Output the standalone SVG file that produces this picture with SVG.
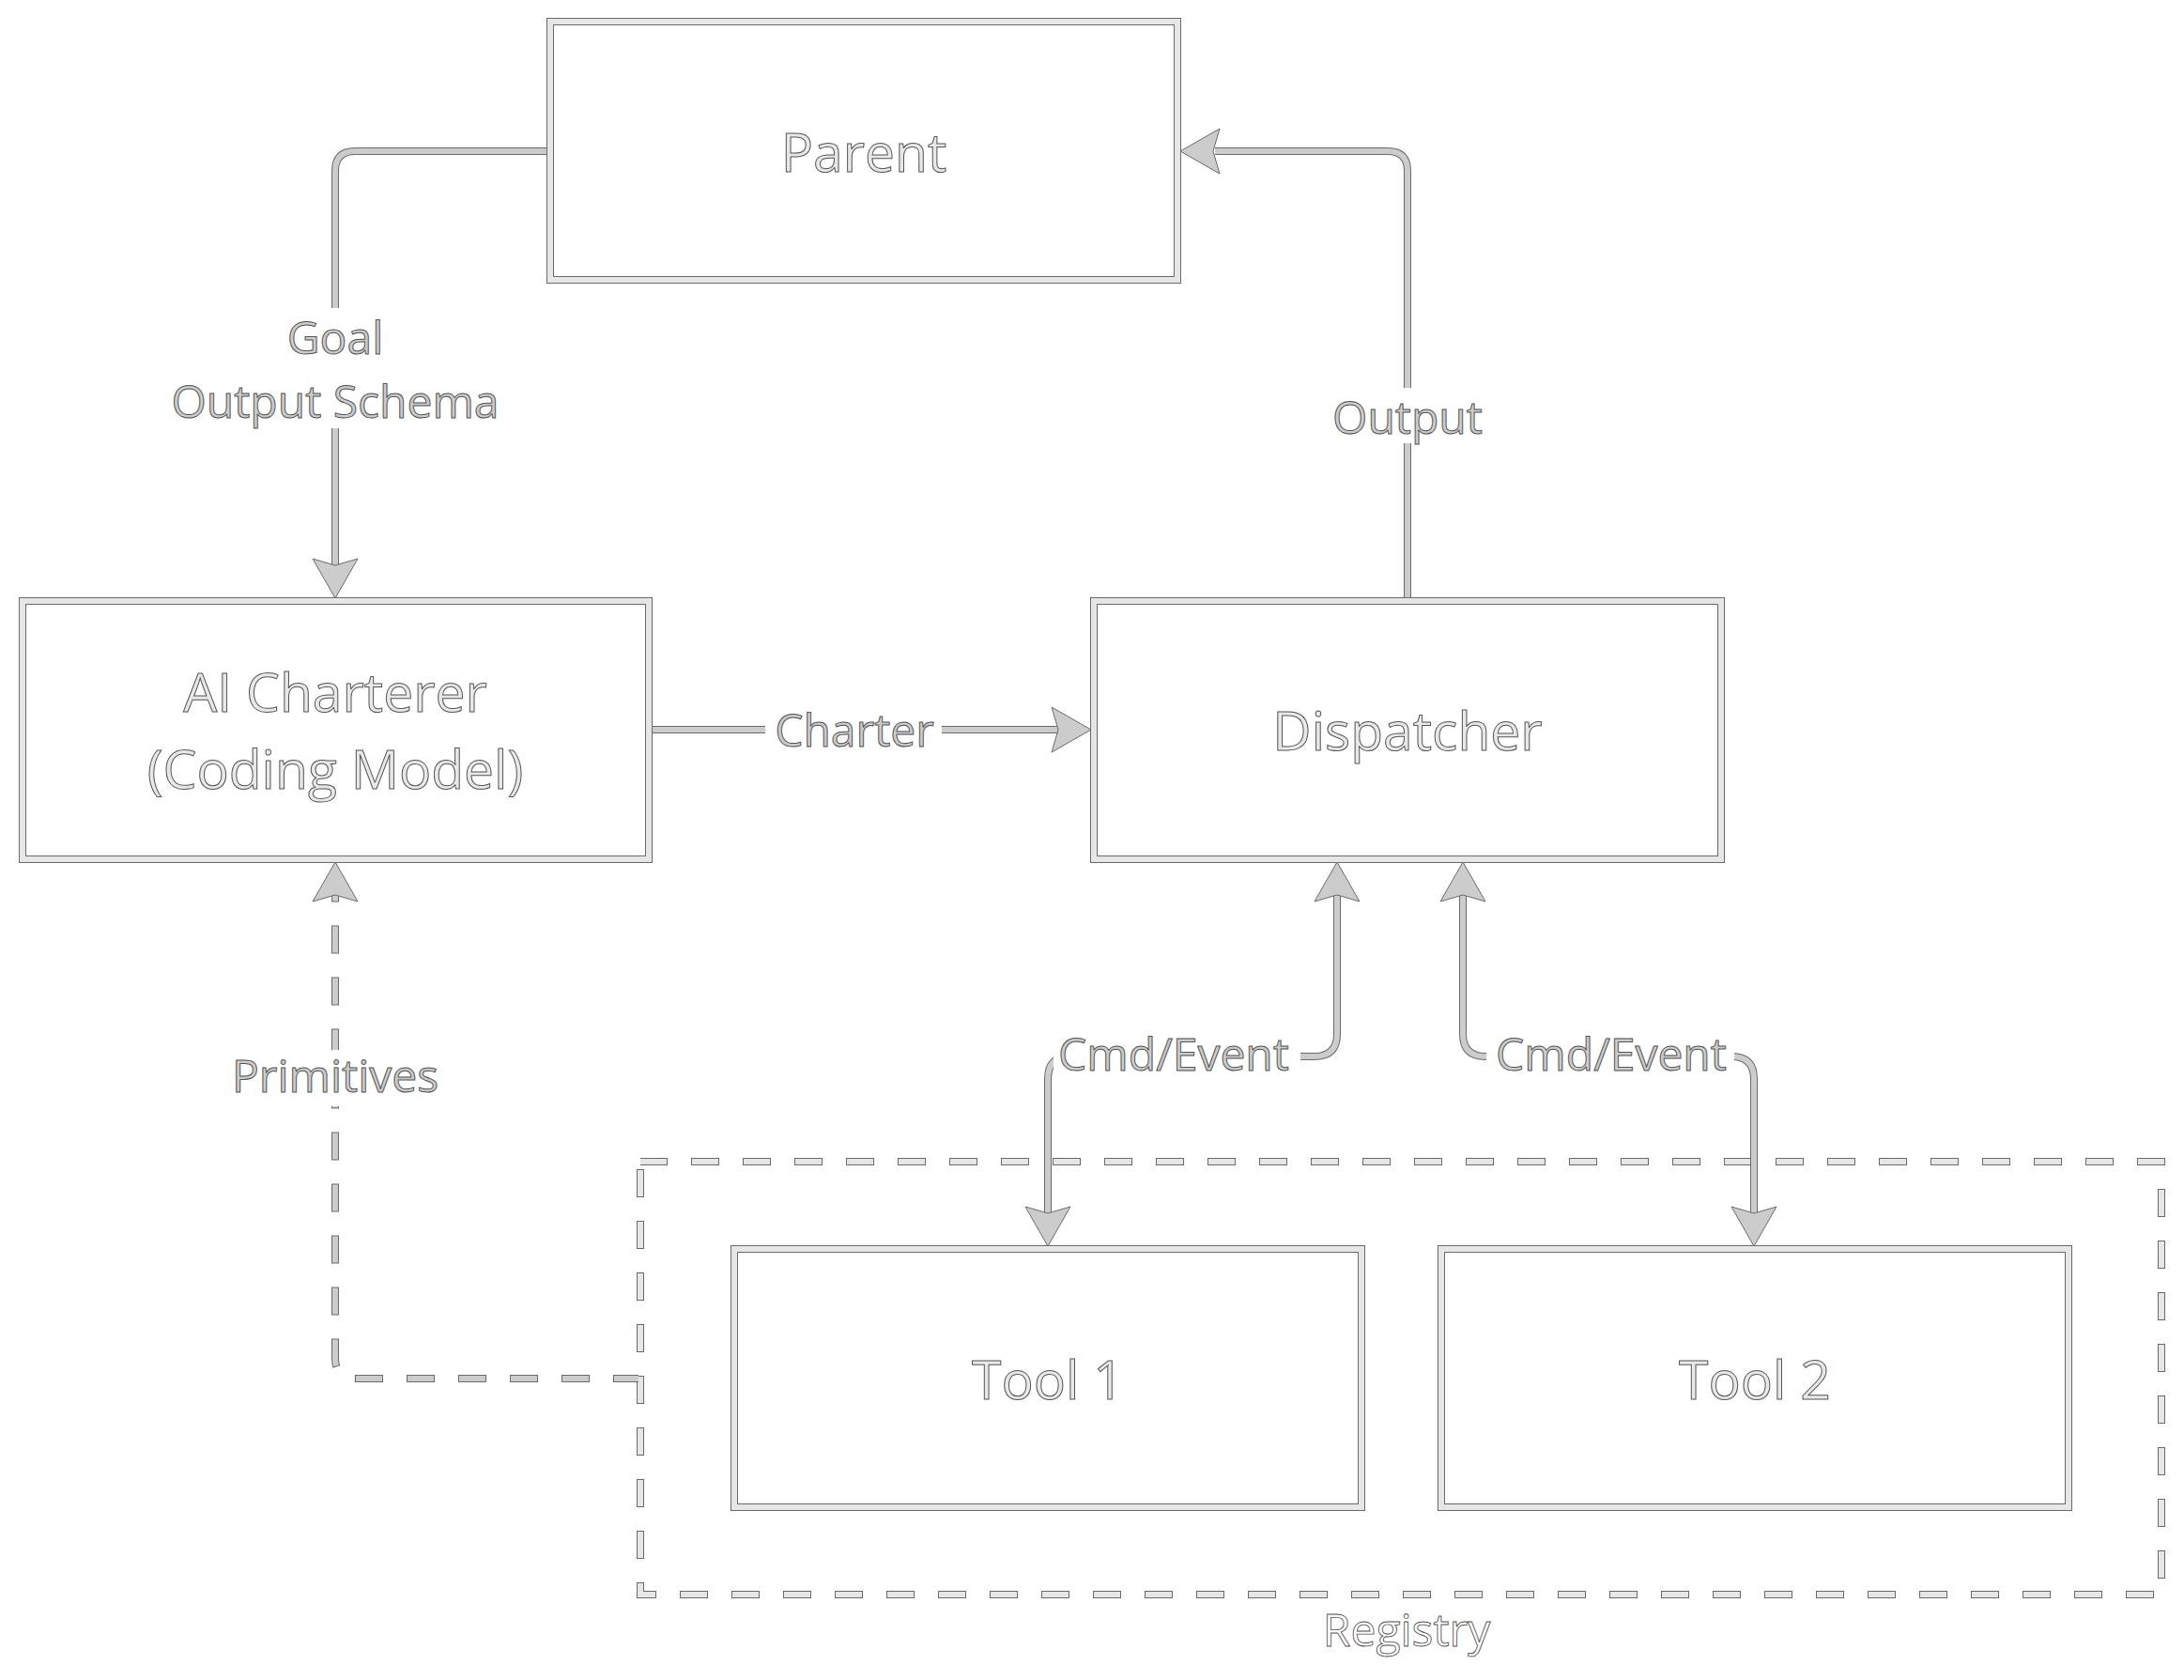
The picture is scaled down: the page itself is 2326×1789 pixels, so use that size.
<svg xmlns="http://www.w3.org/2000/svg" xmlns:xlink="http://www.w3.org/1999/xlink" width="2326" height="1789" viewBox="0 0 2326 1789">
<style>
.bo{fill:none;stroke:#6a6a6a;stroke-width:8}
.bi{fill:none;stroke:#e6e6e6;stroke-width:6}
.nt{font-family:"Open Sans","Noto Sans",sans-serif;font-size:57px;fill:#e8e8e8;stroke:#555;stroke-width:1;text-anchor:middle}
.lt{font-family:"Open Sans","Noto Sans",sans-serif;font-size:48px;fill:#cccccc;stroke:#555;stroke-width:1;text-anchor:middle}
.rt{font-family:"Open Sans","Noto Sans",sans-serif;font-size:48px;fill:#ffffff;stroke:#555;stroke-width:0.9;text-anchor:middle}
.eo{fill:none;stroke:#6a6a6a;stroke-width:8}
.ei{fill:none;stroke:#cccccc;stroke-width:6}
.ro{fill:none;stroke:#6a6a6a;stroke-width:8;stroke-dasharray:30 25;stroke-dashoffset:1}
.ri{fill:none;stroke:#e6e6e6;stroke-width:6;stroke-dasharray:28 27}
.po{fill:none;stroke:#6a6a6a;stroke-width:8;stroke-dasharray:30 25;stroke-dashoffset:3}
.pi{fill:none;stroke:#cccccc;stroke-width:6;stroke-dasharray:28 27;stroke-dashoffset:2}
.lb{fill:#ffffff}
.ah{fill:#cccccc;stroke:#6a6a6a;stroke-width:1;stroke-linejoin:round}
</style>
<defs>
<path id="ah" d="M0,0 L-42,-24 L-35,0 L-42,24 Z"/>
</defs>
<rect width="2326" height="1789" fill="#ffffff"/>

<g id="registry">
<rect class="ro" x="682" y="1237" width="1620" height="461"/>
<rect class="ri" x="682" y="1237" width="1620" height="461"/>
<text class="rt" x="1498" y="1753">Registry</text>
</g>

<g id="connectors">
<path class="eo" d="M583,161 H378 Q357,161 357,182 V602"/>
<path class="ei" d="M583,161 H378 Q357,161 357,182 V602"/>
<path class="eo" d="M1499,636 V182 Q1499,161 1478,161 H1294"/>
<path class="ei" d="M1499,636 V182 Q1499,161 1478,161 H1294"/>
<path class="eo" d="M693,777 H1128"/>
<path class="ei" d="M693,777 H1128"/>
<path class="eo" d="M1424,953 V1101 Q1424,1125 1400,1125 H1140 Q1116,1125 1116,1149 V1292"/>
<path class="ei" d="M1424,953 V1101 Q1424,1125 1400,1125 H1140 Q1116,1125 1116,1149 V1292"/>
<path class="eo" d="M1558,953 V1101 Q1558,1125 1582,1125 H1844 Q1868,1125 1868,1149 V1292"/>
<path class="ei" d="M1558,953 V1101 Q1558,1125 1582,1125 H1844 Q1868,1125 1868,1149 V1292"/>
<path class="po" d="M680,1468 H379 Q357,1468 357,1446 V953"/>
<path class="pi" d="M680,1468 H379 Q357,1468 357,1446 V953"/>

<use href="#ah" class="ah" transform="translate(357,637) rotate(90)"/>
<use href="#ah" class="ah" transform="translate(1257,161) rotate(180)"/>
<use href="#ah" class="ah" transform="translate(1162,777)"/>
<use href="#ah" class="ah" transform="translate(1424,918) rotate(-90)"/>
<use href="#ah" class="ah" transform="translate(1558,918) rotate(-90)"/>
<use href="#ah" class="ah" transform="translate(1116,1327) rotate(90)"/>
<use href="#ah" class="ah" transform="translate(1868,1327) rotate(90)"/>
<use href="#ah" class="ah" transform="translate(357,918) rotate(-90)"/>

<rect class="lb" x="180" y="328" width="354" height="128"/>
<text class="lt" x="357" y="377">Goal</text>
<text class="lt" x="357" y="445">Output Schema</text>
<rect class="lb" x="1428" y="413" width="142" height="59"/>
<text class="lt" x="1499" y="462">Output</text>
<rect class="lb" x="815" y="745" width="188" height="64"/>
<text class="lt" x="910" y="795">Charter</text>
<rect class="lb" x="1122" y="1090" width="263" height="62"/>
<text class="lt" x="1250" y="1140">Cmd/Event</text>
<rect class="lb" x="1583" y="1090" width="264" height="62"/>
<text class="lt" x="1716" y="1140">Cmd/Event</text>
<rect class="lb" x="240" y="1118" width="234" height="60"/>
<text class="lt" x="357" y="1163">Primitives</text>
</g>

<g id="parent">
<rect class="bo" x="586" y="23" width="668" height="275"/>
<rect class="bi" x="586" y="23" width="668" height="275"/>
<text class="nt" x="920" y="183">Parent</text>
</g>

<g id="ai-charterer">
<rect class="bo" x="24" y="640" width="667" height="275"/>
<rect class="bi" x="24" y="640" width="667" height="275"/>
<text class="nt" x="357" y="758">AI Charterer</text>
<text class="nt" x="357" y="840">(Coding Model)</text>
</g>

<g id="dispatcher">
<rect class="bo" x="1165" y="640" width="668" height="275"/>
<rect class="bi" x="1165" y="640" width="668" height="275"/>
<text class="nt" x="1499" y="799">Dispatcher</text>
</g>

<g id="tool1">
<rect class="bo" x="782" y="1330" width="668" height="275"/>
<rect class="bi" x="782" y="1330" width="668" height="275"/>
<text class="nt" x="1116" y="1490">Tool 1</text>
</g>

<g id="tool2">
<rect class="bo" x="1535" y="1330" width="668" height="275"/>
<rect class="bi" x="1535" y="1330" width="668" height="275"/>
<text class="nt" x="1869" y="1490">Tool 2</text>
</g>
</svg>
